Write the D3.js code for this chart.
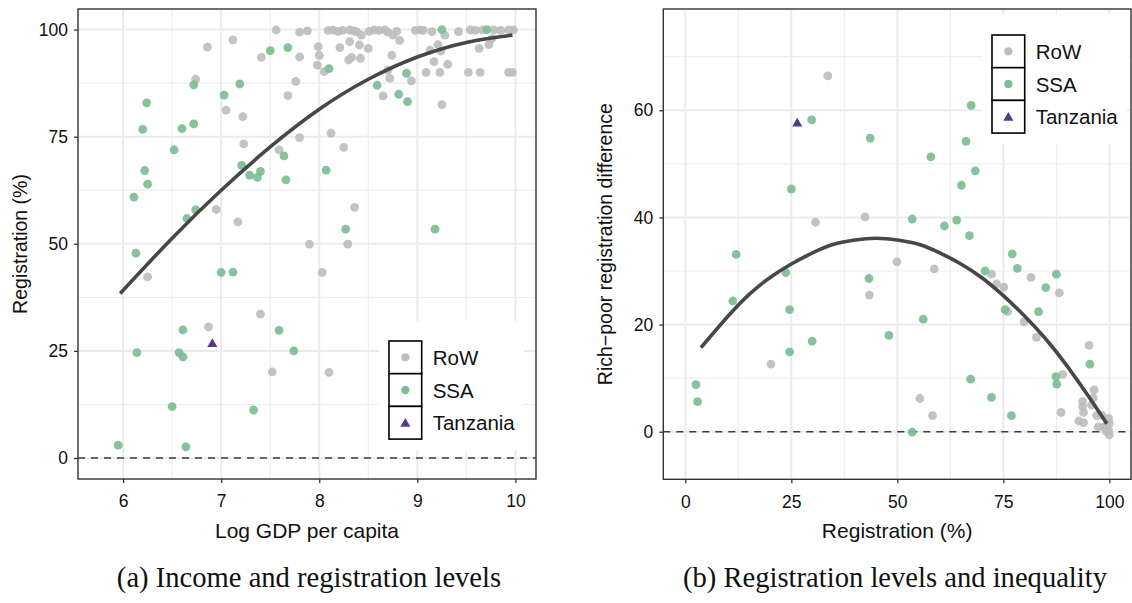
<!DOCTYPE html>
<html>
<head>
<meta charset="utf-8">
<script src="https://cdn.jsdelivr.net/npm/d3@7"></script>
<style>
  html, body { margin: 0; padding: 0; background: #fff; }
  svg { display: block; font-family: "Liberation Sans", Arial, sans-serif; }
</style>
</head>
<body>
<svg id="chart" width="1132" height="603"></svg>
<script>
// ---- data ----
// panel (a): [log GDP per capita, registration %]
const rowA = [
  [7.56,99.9],[7.80,99.4],[7.88,99.7],[7.99,96.0],[8.0,94.0],[7.98,91.7],[6.86,95.9],[7.12,97.6],
  [7.41,93.5],[7.80,93.6],[6.74,88.4],[7.76,87.9],[7.68,84.6],[7.05,81.2],[7.22,79.7],[7.80,74.8],
  [7.23,73.3],[7.59,71.9],[6.95,58.0],[7.17,55.1],[7.90,49.9],
  [8.09,99.8],[8.14,99.9],[8.19,99.6],[8.24,99.8],[8.31,99.9],[8.35,99.7],[8.38,99.5],[8.43,98.7],
  [8.51,99.6],[8.56,99.9],[8.61,99.8],[8.67,99.9],[8.70,99.4],[8.75,98.7],[8.79,99.6],[8.98,99.8],
  [9.03,99.9],[9.06,99.8],[9.15,99.5],[9.28,98.7],[9.42,99.5],[9.54,99.9],[9.59,99.8],[9.66,99.9],
  [9.78,99.9],[9.85,99.8],[9.93,99.9],[9.98,99.9],
  [8.21,95.8],[8.31,97.2],[8.41,96.4],[8.50,95.6],[8.30,92.9],[8.33,93.5],[8.42,93.3],[8.05,90.2],
  [8.74,94.0],[8.70,90.5],[8.72,88.6],[8.94,88.0],[9.09,90.0],[9.23,90.0],[9.13,95.2],[9.21,96.5],
  [9.24,95.0],[9.17,92.5],[9.31,91.9],[9.52,90.0],[9.64,90.0],[9.93,90.0],[9.97,90.0],[9.63,95.6],
  [9.73,96.5],[9.76,97.9],[8.82,97.5],[8.65,84.5],[9.25,82.5],[8.12,75.8],[8.25,72.5],[8.36,58.5],
  [8.29,49.9],
  [6.25,42.3],[6.87,30.6],[7.40,33.6],[7.52,20.1],[8.03,43.3],[8.10,20.0]
];
const ssaA = [
  [7.50,95.1],[7.68,95.8],[6.72,87.1],[7.19,87.3],[6.24,82.9],[7.03,84.7],[6.20,76.7],[6.60,76.9],
  [6.72,78.0],[6.52,71.9],[7.21,68.3],[7.29,66.0],[7.37,65.5],[7.40,66.9],[7.64,70.5],[7.66,64.9],
  [6.22,67.1],[6.25,63.9],[6.11,60.9],[6.65,55.9],[6.74,57.9],[6.13,47.8],
  [9.25,100],[9.71,100],[8.10,90.9],[8.59,87.0],[8.89,89.8],[8.81,84.9],[8.90,83.2],[8.07,67.2],
  [8.27,53.4],[9.18,53.4],
  [7.00,43.3],[7.12,43.4],[6.61,29.9],[6.14,24.6],[6.57,24.6],[6.61,23.6],[7.59,29.8],[7.74,25.0],
  [6.50,12.0],[7.33,11.2],[5.95,3.0],[6.64,2.6]
];
const tzA = [[6.91,26.6]];
const fitA = [
  [5.97,38.4],[6.5,51.3],[7,62.5],[7.5,72.6],[8,81.4],[8.5,88.4],[9,93.6],[9.5,97.0],[9.97,98.7]
];

// panel (b): [registration %, rich-poor difference]
const rowB = [
  [33.6,66.4],[30.7,39.1],[42.4,40.1],[20.2,12.6],[43.4,25.5],[49.9,31.7],[58.7,30.4],[55.3,6.2],
  [58.3,3.0],[72.2,29.4],[81.5,28.8],[73.4,27.6],[75.1,27.0],[88.2,25.9],[76.0,22.4],[79.9,20.5],
  [82.8,17.6],[95.2,16.1],[89.0,10.7],[88.6,3.6],
  [96.4,7.8],[96.2,6.3],[93.7,5.6],[93.7,4.7],[93.9,3.6],[92.8,2.0],[93.9,1.7],[95.8,5.0],
  [97.0,3.0],[98.2,3.1],[97.4,0.9],[98.6,0.9],[99.8,2.5],[100,1.6],[99.8,0.3],[100,-0.6],
  [99.3,0.0],[99.0,0.9]
];
const ssaB = [
  [29.8,58.2],[43.6,54.8],[25.0,45.3],[12.0,33.1],[67.4,60.9],[66.2,54.2],[57.9,51.3],[68.4,48.7],
  [65.1,46.0],[53.5,39.7],[61.1,38.4],[64.0,39.5],[67.0,36.6],[77.1,33.2],[11.2,24.4],[23.7,29.7],
  [24.6,22.8],[24.6,14.9],[29.9,16.9],[2.5,8.8],[2.9,5.6],[43.3,28.6],[48.0,18.0],[56.1,21.0],
  [53.5,-0.1],[67.3,9.8],[72.2,6.4],[76.9,3.0],[70.7,30.0],[78.3,30.5],[87.5,29.4],[85.0,26.9],
  [75.4,22.8],[83.3,22.4],[95.4,12.6],[87.4,10.3],[87.6,8.9]
];
const tzB = [[26.4,57.5]];
const fitB = [
  [3.7,15.7],[10,21.5],[15,25.6],[20,28.8],[25,31.3],[30,33.4],[35,35.0],[40,35.8],[45,36.1],
  [50,35.8],[55,35.0],[60,33.4],[65,31.3],[70,28.7],[75,25.4],[80,21.6],[85,17.3],[90,12.3],
  [95,6.7],[99.4,1.5]
];

// ticks
const xTicksA = [6, 7, 8, 9, 10];
const xMinorA = [6.5, 7.5, 8.5, 9.5];
const yTicksA = [0, 25, 50, 75, 100];
const yMinorA = [12.5, 37.5, 62.5, 87.5];
const xTicksB = [0, 25, 50, 75, 100];
const xMinorB = [12.5, 37.5, 62.5, 87.5];
const yTicksB = [0, 20, 40, 60];
const yMinorB = [10, 30, 50, 70];

const groups = ['RoW', 'SSA', 'Tanzania'];

(function () {
  'use strict';

  const COLORS = {
    row:    '#bdbdbd',
    ssa:    '#7cbd93',
    tz:     '#553a87',
    fit:    '#474747',
    grid:   '#ebebeb',
    border: '#333333',
    text:   '#111111',
  };

  const svg = d3.select('#chart');

  function drawPanel(cfg) {
    const x = d3.scaleLinear().domain(cfg.xDomain).range([cfg.left, cfg.right]);
    const y = d3.scaleLinear().domain(cfg.yDomain).range([cfg.bottom, cfg.top]);
    const g = svg.append('g');

    // grid
    const grid = g.append('g');
    grid.selectAll('.vmin').data(cfg.xMinor).enter().append('line')
      .attr('x1', d => x(d)).attr('x2', d => x(d))
      .attr('y1', cfg.top).attr('y2', cfg.bottom)
      .attr('stroke', COLORS.grid).attr('stroke-width', 1);
    grid.selectAll('.hmin').data(cfg.yMinor).enter().append('line')
      .attr('y1', d => y(d)).attr('y2', d => y(d))
      .attr('x1', cfg.left).attr('x2', cfg.right)
      .attr('stroke', COLORS.grid).attr('stroke-width', 1);
    grid.selectAll('.vmaj').data(cfg.xTicks).enter().append('line')
      .attr('x1', d => x(d)).attr('x2', d => x(d))
      .attr('y1', cfg.top).attr('y2', cfg.bottom)
      .attr('stroke', COLORS.grid).attr('stroke-width', 2);
    grid.selectAll('.hmaj').data(cfg.yTicks).enter().append('line')
      .attr('y1', d => y(d)).attr('y2', d => y(d))
      .attr('x1', cfg.left).attr('x2', cfg.right)
      .attr('stroke', COLORS.grid).attr('stroke-width', 2);

    // zero reference
    g.append('line')
      .attr('x1', cfg.left).attr('x2', cfg.right)
      .attr('y1', y(0)).attr('y2', y(0))
      .attr('stroke', '#3d3d3d').attr('stroke-width', 1.6)
      .attr('stroke-dasharray', '7,6');

    // points
    const pts = g.append('g');
    pts.selectAll('.row').data(cfg.row).enter().append('circle')
      .attr('cx', d => x(d[0])).attr('cy', d => y(d[1])).attr('r', 4.4)
      .attr('fill', COLORS.row).attr('fill-opacity', 0.9);
    pts.selectAll('.ssa').data(cfg.ssa).enter().append('circle')
      .attr('cx', d => x(d[0])).attr('cy', d => y(d[1])).attr('r', 4.4)
      .attr('fill', COLORS.ssa).attr('fill-opacity', 0.92);
    pts.selectAll('.tz').data(cfg.tz).enter().append('path')
      .attr('transform', d => `translate(${x(d[0])},${y(d[1])})`)
      .attr('d', d3.symbol(d3.symbolTriangle, 44))
      .attr('fill', COLORS.tz);

    // fitted curve
    const line = d3.line().x(d => x(d[0])).y(d => y(d[1])).curve(d3.curveNatural);
    g.append('path').datum(cfg.fit)
      .attr('d', line)
      .attr('fill', 'none')
      .attr('stroke', COLORS.fit)
      .attr('stroke-width', 3.6);

    // border
    g.append('rect')
      .attr('x', cfg.left).attr('y', cfg.top)
      .attr('width', cfg.right - cfg.left).attr('height', cfg.bottom - cfg.top)
      .attr('fill', 'none').attr('stroke', COLORS.border).attr('stroke-width', 1.4);

    // axes
    const xAxis = g.append('g')
      .attr('transform', `translate(0,${cfg.bottom})`)
      .call(d3.axisBottom(x).tickValues(cfg.xTicks).tickFormat(d3.format('d'))
        .tickSize(4).tickPadding(12).tickSizeOuter(0));
    const yAxis = g.append('g')
      .attr('transform', `translate(${cfg.left},0)`)
      .call(d3.axisLeft(y).tickValues(cfg.yTicks).tickFormat(d3.format('d'))
        .tickSize(4).tickPadding(6).tickSizeOuter(0));
    [xAxis, yAxis].forEach(a => {
      a.select('.domain').remove();
      a.selectAll('line').attr('stroke', COLORS.border).attr('stroke-width', 1.3);
      a.selectAll('text')
        .attr('fill', COLORS.text)
        .style('font-size', '17.5px')
        .style('font-family', '"Liberation Sans", Arial, sans-serif');
    });

    // titles
    g.append('text')
      .attr('x', (cfg.left + cfg.right) / 2).attr('y', 538)
      .attr('text-anchor', 'middle')
      .attr('fill', COLORS.text).style('font-size', '21px')
      .text(cfg.xTitle);
    g.append('text')
      .attr('transform', `translate(${cfg.yTitleX},${(cfg.top + cfg.bottom) / 2}) rotate(-90)`)
      .attr('text-anchor', 'middle')
      .attr('fill', COLORS.text).style('font-size', '19.5px')
      .text(cfg.yTitle);

    // caption
    g.append('text')
      .attr('x', cfg.captionX).attr('y', 587)
      .attr('text-anchor', 'middle')
      .attr('fill', '#111')
      .style('font-family', '"Liberation Serif", "Times New Roman", serif')
      .style('font-size', '28.6px')
      .text(cfg.caption);

    drawLegend(g, cfg.legendX, cfg.legendY);
  }

  function drawLegend(g, lx, ly) {
    const key = 32.7;
    const leg = g.append('g');
    leg.append('rect')
      .attr('x', lx - 10).attr('y', ly - 20)
      .attr('width', 145).attr('height', key * 3 + 31)
      .attr('fill', '#fff');
    const item = leg.selectAll('.item').data(groups).enter().append('g')
      .attr('transform', (d, i) => `translate(${lx},${ly + i * key})`);
    item.append('rect')
      .attr('width', key).attr('height', key)
      .attr('fill', '#fff').attr('stroke', '#000').attr('stroke-width', 1.6);
    item.each(function (d) {
      const s = d3.select(this);
      if (d === 'Tanzania') {
        s.append('path')
          .attr('transform', `translate(${key / 2},${key / 2 + 1})`)
          .attr('d', d3.symbol(d3.symbolTriangle, 44))
          .attr('fill', COLORS.tz);
      } else {
        s.append('circle')
          .attr('cx', key / 2).attr('cy', key / 2).attr('r', 4.2)
          .attr('fill', d === 'RoW' ? COLORS.row : COLORS.ssa);
      }
    });
    item.append('text')
      .attr('x', key + 11).attr('y', key / 2 + 7.5)
      .attr('fill', COLORS.text).style('font-size', '20.5px')
      .text(d => d);
  }

  drawPanel({
    left: 78, right: 536, top: 9, bottom: 479,
    xDomain: [5.54, 10.21], yDomain: [-4.9, 104.8],
    xTicks: xTicksA, xMinor: xMinorA, yTicks: yTicksA, yMinor: yMinorA,
    row: rowA, ssa: ssaA, tz: tzA, fit: fitA,
    xTitle: 'Log GDP per capita', yTitle: 'Registration (%)', yTitleX: 27,
    caption: '(a) Income and registration levels', captionX: 309,
    legendX: 389, legendY: 341,
  });

  drawPanel({
    left: 663.3, right: 1131, top: 9, bottom: 479.3,
    xDomain: [-5.19, 105.1], yDomain: [-8.88, 78.9],
    xTicks: xTicksB, xMinor: xMinorB, yTicks: yTicksB, yMinor: yMinorB,
    row: rowB, ssa: ssaB, tz: tzB, fit: fitB,
    xTitle: 'Registration (%)', yTitle: 'Rich\u2212poor registration difference', yTitleX: 612,
    caption: '(b) Registration levels and inequality', captionX: 895,
    legendX: 992, legendY: 35,
  });
})();
</script>
</body>
</html>
